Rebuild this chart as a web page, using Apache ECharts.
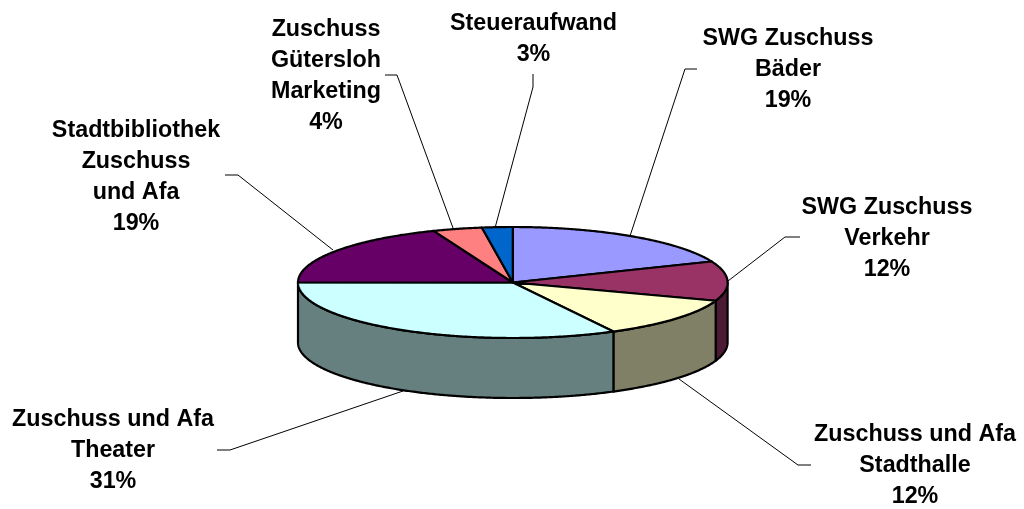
<!DOCTYPE html>
<html>
<head>
<meta charset="utf-8">
<style>
  html, body { margin: 0; padding: 0; background: #fff; }
  #chart { width: 1024px; height: 509px; }
</style>
<script src="https://cdn.jsdelivr.net/npm/echarts@6/dist/echarts.min.js"></script>
</head>
<body>
<div id="chart"></div>
<script>
const categories = [
  "SWG Zuschuss\nBäder",
  "SWG Zuschuss\nVerkehr",
  "Zuschuss und Afa\nStadthalle",
  "Zuschuss und Afa\nTheater",
  "Stadtbibliothek\nZuschuss\nund Afa",
  "Zuschuss\nGütersloh\nMarketing",
  "Steueraufwand"
];
// printed percentages
const percentLabels = ["19%", "12%", "12%", "31%", "19%", "4%", "3%"];
// slice widths as measured on the drawn ellipse (the tilt skews them a bit against the printed numbers)
const sliceShares = [18.8, 11.5, 11.9, 32.8, 18.9, 3.7, 2.3];

const topColors = ["#9999FF", "#993366", "#FFFFCC", "#CCFFFF", "#660066", "#FF8080", "#0066CC"];
const sideColors = ["#4D4D80", "#4D1A33", "#808066", "#668080", "#330033", "#804040", "#003366"];

// label centre and leader line for each slice
const labelCenters = [[788, 69.5], [887, 238.5], [915, 465.5], [113, 450.5], [136, 177.5], [326, 76], [533.5, 39.5]];
const leaderLines = [
  [[697, 69], [685, 69], [630, 236]],
  [[800, 237], [785, 237], [728, 281]],
  [[811, 465], [798, 465], [679, 379]],
  [[217, 450], [230, 450], [403, 391]],
  [[225, 175], [238, 175], [333, 250]],
  [[385, 75], [397, 75], [453, 228]],
  [[533, 74], [533, 87], [495, 228]]
];

const cx = 512.8, cy = 282.5, rx = 214.8, ry = 55.5, depth = 60;
const total = sliceShares.reduce((a, b) => a + b, 0);

function pointAt(deg, dy) {
  const t = deg * Math.PI / 180;
  return [cx + rx * Math.sin(t), cy - ry * Math.cos(t) + (dy || 0)];
}
function arcPoints(from, to, dy) {
  const pts = [];
  const n = Math.max(1, Math.ceil(Math.abs(to - from) * 2));
  for (let i = 0; i <= n; i++) {
    pts.push(pointAt(from + (to - from) * i / n, dy));
  }
  return pts;
}
function startAngle(idx) {
  let sum = 0;
  for (let i = 0; i < idx; i++) sum += sliceShares[i];
  return sum / total * 360;
}

const chart = echarts.init(document.getElementById("chart"), null, { renderer: "canvas" });

function renderSlice(params, api) {
  const i = params.dataIndex;
  const a0 = startAngle(i);
  const a1 = a0 + api.value(0) / total * 360;
  const children = [];

  children.push({
    type: "polyline",
    z2: 0,
    shape: { points: leaderLines[i] },
    style: { stroke: "#000", lineWidth: 1, fill: null }
  });

  // only the front half of the rim can be seen
  const w0 = Math.max(a0, 90), w1 = Math.min(a1, 270);
  if (w1 > w0) {
    const wall = arcPoints(w0, w1, 0).concat(arcPoints(w1, w0, depth));
    children.push({
      type: "polygon",
      z2: 1,
      shape: { points: wall },
      style: { fill: sideColors[i], stroke: "#000", lineWidth: 2.2, lineJoin: "round" }
    });
  }

  children.push({
    type: "polygon",
    z2: 2,
    shape: { points: [[cx, cy]].concat(arcPoints(a0, a1, 0)) },
    style: { fill: topColors[i], stroke: "#000", lineWidth: 2.2, lineJoin: "round" }
  });

  children.push({
    type: "text",
    z2: 3,
    style: {
      text: categories[i] + "\n" + percentLabels[i],
      x: labelCenters[i][0],
      y: labelCenters[i][1],
      align: "center",
      verticalAlign: "middle",
      font: 'bold 23.3px "Liberation Sans", Arial, sans-serif',
      lineHeight: 31,
      fill: "#000"
    }
  });

  return { type: "group", children: children };
}

chart.setOption({
  animation: false,
  backgroundColor: "#fff",
  series: [{
    type: "custom",
    coordinateSystem: "none",
    silent: true,
    renderItem: renderSlice,
    data: sliceShares.map((v, i) => ({ name: categories[i], value: [v] }))
  }]
});
</script>
</body>
</html>
